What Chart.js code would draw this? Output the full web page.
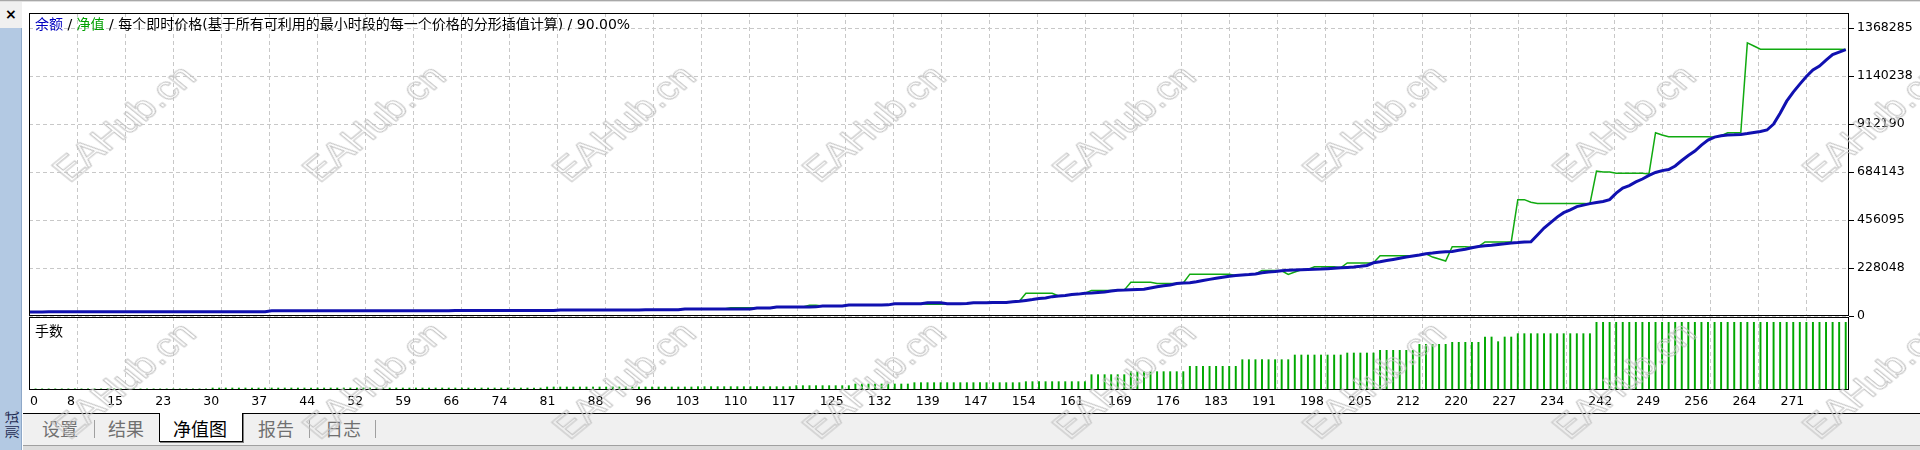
<!DOCTYPE html>
<html>
<head>
<meta charset="utf-8">
<script src="https://cdn.jsdelivr.net/npm/chart.js@4.4.1/dist/chart.umd.min.js"></script>
<style>
  body { margin: 0; background: #fff; }
  #wrap { position: relative; width: 1920px; height: 450px; overflow: hidden; background: #fff;
          font-family: "DejaVu Sans", "Noto Sans CJK SC", sans-serif; }
  canvas { position: absolute; left: 0; }
  #equityChart { top: 0; }
  #lotChart { top: 316px; }
  .abs { position: absolute; }
  .tab { position: absolute; top: 428px; transform: translate(-50%, -50%); font: 18px "Noto Sans CJK SC"; color: #707070; white-space: nowrap; }
  .sep { position: absolute; top: 420px; width: 1px; height: 18px; background: #a0a0a0; }
  .mark { position: absolute; font: 33px "Liberation Sans", sans-serif; color: transparent;
          -webkit-text-stroke: 1px #c4c4c4; white-space: nowrap; pointer-events: none; }
</style>
</head>
<body>
<div id="wrap">
  <div class="abs" style="left:0;top:0;width:1920px;height:1px;background:#a8a8a8"></div>
  <div class="abs" style="left:0;top:1px;width:1920px;height:1px;background:#e0e0e0"></div>

  <canvas id="equityChart" width="1920" height="330"></canvas>
  <canvas id="lotChart" width="1920" height="134"></canvas>

  <!-- left tester strip -->
  <div class="abs" style="left:0;top:2px;width:22px;height:26px;background:#f0f0f0"></div>
  <div class="abs" style="left:5px;top:6px;font:bold 14px 'DejaVu Sans';color:#000">×</div>
  <div class="abs" style="left:0;top:28px;width:21px;height:422px;background:#b3c9e3;border-right:1px solid #8ea8c8"></div>
  <div class="abs" style="left:11px;top:425px;transform:translate(-50%,-50%) rotate(-90deg);font:14px 'Noto Sans CJK SC';color:#1c2850;white-space:nowrap">测试</div>

  <!-- tabs -->
  <div class="abs" style="left:23px;top:414px;width:1897px;height:31px;background:#f0f0f0"></div>
  <div class="abs" style="left:23px;top:413px;width:1897px;height:1px;background:#000"></div>
  <div class="abs" style="left:159px;top:413px;width:82px;height:28px;background:#fff;border:1px solid #000;border-top:none;box-shadow:1px 1px 0 #808080"></div>
  <div class="tab" style="left:60px">设置</div>
  <div class="sep" style="left:94px"></div>
  <div class="tab" style="left:126px">结果</div>
  <div class="tab" style="left:200px;color:#000">净值图</div>
  <div class="tab" style="left:276px">报告</div>
  <div class="sep" style="left:309px"></div>
  <div class="tab" style="left:343px">日志</div>
  <div class="sep" style="left:375px"></div>
  <div class="abs" style="left:23px;top:445px;width:1897px;height:1px;background:#a0a0a0"></div>
  <div class="abs" style="left:23px;top:446px;width:1897px;height:4px;background:#dcdcdc"></div>
</div>

<script>
// trade number tick labels along the bottom
var xTickLabels = ['0','8','15','23','30','37','44','52','59','66','74','81','88','96','103','110','117','125','132',
    '139','147','154','161','169','176','183','191','198','205','212','220','227','234','242','249','256','264','271'];
var xStep = 7.324;   // trades per grid cell
var xMax = 277.5;

// balance axis labels
var yTickLabels = ['0','228048','456095','684143','912190','1140238','1368285'];
var yMax = 1440000;

// balance after each trade
var balance = [
    19500,19550,19600,19620,19680,19700,19750,19800,19820,19850,
    19880,19900,19950,19980,20000,20020,20050,20080,20100,20120,
    20150,20180,20200,20220,20250,20280,20300,20320,20350,20380,
    20400,20450,20500,20550,20600,20650,20700,24600,24650,24700,
    24700,24750,24800,24800,24850,24900,24900,24950,25000,25000,
    25050,25100,25100,25150,25200,25200,25250,25300,25300,25350,
    25400,25400,25450,25500,25500,25550,25600,25600,25650,25700,
    25700,25750,25800,25800,25850,25900,25900,25950,26000,26000,
    26050,28500,28550,28600,28650,28700,28750,28800,28850,28900,
    28950,29000,29050,29100,29150,29200,29250,29300,29350,29400,
    33300,33350,33400,33450,33500,33550,33600,33650,33700,33750,
    33800,38000,38100,38200,42800,42900,43000,43100,43200,43300,
    43400,47500,47600,47700,47800,52300,52400,52500,52600,52700,
    52800,52900,57800,57900,58000,58100,58200,63000,63100,63200,
    58600,58700,58800,58900,63000,63200,63400,63600,63800,64000,
    68000,70000,74000,78000,83000,86000,92000,95000,97000,102000,
    104000,108000,109000,112000,114000,119000,122000,123000,125000,126000,
    127000,133000,139000,144000,147000,154000,157000,158000,163000,169000,
    174000,179000,184000,189000,193000,195000,197000,200000,206000,209000,
    211000,215000,218000,219000,220000,221000,222000,223000,225000,227000,
    229000,231000,233000,236000,240000,253000,258000,264000,269000,274000,
    280000,285000,290000,296000,299000,303000,305000,307000,312000,317000,
    324000,330000,334000,336000,340000,343000,347000,349000,352000,353000,
    385000,418000,444000,470000,491000,504000,520000,527000,534000,539000,
    544000,553000,584000,608000,620000,637000,651000,668000,682000,691000,
    696000,713000,739000,763000,784000,812000,836000,850000,857000,860000,
    861000,863000,867000,872000,877000,884000,912000,964000,1021000,1064000,
    1102000,1138000,1169000,1188000,1216000,1242000,1254000,1266000
];

// equity at each trade
var equity = [
    19500,19550,19600,19620,19680,19700,19750,19800,19820,19850,
    19880,19900,19950,19980,20000,20020,20050,20080,20100,20120,
    20150,20180,20200,20220,20250,20280,20300,20320,20350,20380,
    20400,20450,20500,20550,20600,20650,20700,24600,24650,24700,
    24700,24750,24800,24800,24850,24900,24900,24950,25000,25000,
    25050,25100,25100,25150,25200,25200,25250,25300,25300,25350,
    25400,25400,25450,25500,25500,25550,25600,25600,25650,25700,
    25700,25750,25800,25800,25850,25900,25900,25950,26000,26000,
    26050,28500,28550,28600,28650,28700,28750,28800,28850,28900,
    28950,29000,29050,29100,29150,29200,29250,29300,29350,29400,
    33300,33350,33400,33450,33500,33550,33600,39400,39400,39400,
    39400,38000,38100,38200,42800,42900,43000,43100,43200,51000,
    51000,47500,47600,47700,47800,52300,52400,52500,52600,52700,
    52800,52900,57800,57900,58000,58100,58200,55600,55600,55600,
    58600,58700,58800,58900,63000,63200,63400,68000,68000,64000,
    68000,70000,108000,108000,108000,108000,108000,95000,97000,102000,
    104000,108000,121000,121000,121000,121000,122000,123000,160000,160000,
    160000,160000,154000,154000,154000,154000,157000,199000,199000,199000,
    199000,199000,199000,199000,193000,195000,197000,200000,216000,216000,
    216000,215000,198000,209000,220000,221000,234000,234000,234000,234000,
    229000,252000,252000,252000,252000,253000,286000,286000,286000,286000,
    286000,285000,290000,296000,280000,271000,261000,329000,329000,329000,
    327000,330000,352000,352000,352000,352000,352000,553000,553000,541000,
    535000,535000,535000,535000,535000,535000,535000,535000,534000,689000,
    684000,684000,678000,678000,678000,678000,678000,675000,871000,860000,
    852000,852000,852000,852000,852000,852000,852000,850000,857000,871000,
    871000,871000,1298000,1283000,1268000,1268000,1268000,1268000,1268000,1268000,
    1268000,1268000,1268000,1268000,1268000,1268000,1268000,1266000
];

// lot size of each trade (relative units)
var lots = [
    0.2,0.2,0.2,0.2,0.2,0.2,0.2,0.2,0.2,0.2,
    0.2,0.2,0.2,0.2,0.2,0.2,0.2,0.2,0.2,0.2,
    0.2,0.2,0.2,0.2,0.2,0.2,0.2,0.2,1.5,1.5,
    1.5,1.5,1.5,1.5,1.5,1.5,1.5,1.5,1.5,1.5,
    1.5,1.5,1.5,1.5,1.5,1.5,1.5,1.5,1.5,1.5,
    1.5,1.5,1.5,1.5,1.5,1.5,1.5,1.5,1.5,1.5,
    1.5,1.5,1.5,1.5,1.5,1.5,1.5,1.5,1.5,1.5,
    1.5,1.5,1.5,1.5,1.5,1.5,1.5,1.5,1.5,3,
    3,3,3,3,3,3,3,3,3,3,
    3,3,3,3,3,3,3,3,3,3,
    3,3,3.5,3.5,3.5,3.5,3.5,3.5,3.5,3.5,
    3.5,3.5,3.5,3.5,3.5,3.5,3.5,5,5,5,
    5,5,5,5,5,5,7.5,7.5,7.5,7.5,
    7.5,7.5,7.5,7.5,7.5,9.5,9.5,9.5,9.5,9.5,
    9.5,9.5,9.5,9.5,9.5,9.5,9.5,9.5,9.5,9.5,
    9.5,9.5,11,11,11,11,11,11,11,11,
    11,11,21.5,21.5,21.5,21.5,21.5,21.5,26,26,
    26,26,26,26,26,26,26,34,34,34,
    34,34,34,34,34,44,44,44,44,44,
    44,44,44,51,51,51,51,51,51,51,
    51,54,54,54,54,54,58,58,58,58,
    58,58,67,67,67,67,67,70,70,70,
    70,70,78,78,71,78,78,83,83,83,
    83,83,83,83,83,83,83,83,83,100,
    100,100,100,100,100,100,100,100,100,100,
    100,100,100,100,100,100,100,100,100,100,
    100,100,100,100,100,100,100,100,100,100,
    100,100,100,100,100,100,100,100
];
var lotMin = -1.5;   // keeps the zero line one pixel above the frame
var lotMax = 108;

var titleParts = [
    ['余额', '#0000c0'],
    [' / ', '#000000'],
    ['净值', '#00a000'],
    [' / 每个即时价格(基于所有可利用的最小时段的每一个价格的分形插值计算) / 90.00%', '#000000']
];

var fontFamily = "'DejaVu Sans', 'Noto Sans CJK SC', sans-serif";
var gridColor = '#c8c8c8';

var framePlugin = {
    id: 'frame',
    afterDraw: function (chart) {
        var a = chart.chartArea, ctx = chart.ctx;
        ctx.save();
        ctx.strokeStyle = '#000';
        ctx.lineWidth = 1;
        ctx.strokeRect(Math.round(a.left) + 0.5, Math.round(a.top) + 0.5,
            Math.round(a.right - a.left) - 1, Math.round(a.bottom - a.top) - 1);
        ctx.restore();
    }
};

var titlePlugin = {
    id: 'title',
    afterDraw: function (chart) {
        var ctx = chart.ctx, x = 35;
        ctx.save();
        ctx.font = "14px " + fontFamily;
        ctx.textBaseline = 'middle';
        titleParts.forEach(function (p) {
            ctx.fillStyle = p[1];
            ctx.fillText(p[0], x, 25);
            x += ctx.measureText(p[0]).width;
        });
        ctx.restore();
    }
};

var lotPlugin = {
    id: 'lotText',
    afterDraw: function (chart) {
        var ctx = chart.ctx, sx = chart.scales.x;
        ctx.save();
        ctx.fillStyle = '#000';
        ctx.textBaseline = 'middle';
        ctx.font = "14px " + fontFamily;
        ctx.fillText('手数', 35, 16);
        ctx.font = "12.5px " + fontFamily;
        sx.ticks.forEach(function (t, k) {
            var px = sx.getPixelForValue(t.value);
            ctx.textAlign = k === 0 ? 'left' : 'right';
            ctx.fillText(xTickLabels[k], k === 0 ? px + 1 : px - 2, chart.chartArea.bottom + 12);
        });
        ctx.restore();
    }
};

var xScale = function () {
    return {
        type: 'linear',
        min: 0,
        max: xMax,
        offset: false,
        afterBuildTicks: function (s) {
            s.ticks = xTickLabels.map(function (l, k) { return { value: k * xStep }; });
        },
        afterFit: function (s) { s.height = 0; },
        ticks: { display: false },
        grid: { color: gridColor, drawTicks: false, offset: false },
        border: { display: false, dash: [4, 3] }
    };
};

var points = function (arr) {
    return arr.map(function (v, i) { return { x: i, y: v }; });
};

new Chart(document.getElementById('equityChart'), {
    type: 'line',
    data: {
        datasets: [{
            label: '余额',
            data: points(balance),
            borderColor: '#1010b0',
            borderWidth: 3,
            pointRadius: 0,
            tension: 0
        }, {
            label: '净值',
            data: points(equity),
            borderColor: '#10aa10',
            borderWidth: 1.5,
            pointRadius: 0,
            tension: 0
        }]
    },
    options: {
        responsive: false,
        animation: false,
        devicePixelRatio: 1,
        events: [],
        layout: { padding: { left: 29, top: 13, right: 0, bottom: 14 } },
        plugins: { legend: { display: false }, tooltip: { enabled: false } },
        scales: {
            x: xScale(),
            y: {
                position: 'right',
                min: 0,
                max: yMax,
                afterBuildTicks: function (s) {
                    s.ticks = yTickLabels.map(function (l) { return { value: Number(l) }; });
                },
                afterFit: function (s) { s.width = 71; },
                ticks: {
                    callback: function (v, i) { return yTickLabels[i]; },
                    color: '#000',
                    padding: 3,
                    font: { family: fontFamily, size: 12.5 }
                },
                grid: { color: gridColor, tickColor: '#000', tickLength: 5, tickBorderDash: [] },
                border: { display: false, dash: [4, 3] }
            }
        }
    },
    plugins: [framePlugin, titlePlugin]
});

new Chart(document.getElementById('lotChart'), {
    type: 'bar',
    data: {
        datasets: [{
            label: '手数',
            data: points(lots),
            backgroundColor: '#00a800',
            barThickness: 1.3
        }]
    },
    options: {
        responsive: false,
        animation: false,
        devicePixelRatio: 1,
        events: [],
        layout: { padding: { left: 29, top: 1, right: 71, bottom: 60 } },
        plugins: { legend: { display: false }, tooltip: { enabled: false } },
        scales: {
            x: xScale(),
            y: { display: false, min: lotMin, max: lotMax }
        }
    },
    plugins: [framePlugin, lotPlugin]
});

// EAHub.cn watermark grid
var wrap = document.getElementById('wrap');
[123, 380].forEach(function (cy) {
    for (var k = 0; k < 8; k++) {
        var d = document.createElement('div');
        d.className = 'mark';
        d.textContent = 'EAHub.cn';
        d.style.left = (124 + 250 * k) + 'px';
        d.style.top = cy + 'px';
        d.style.transform = 'translate(-50%,-50%) scaleX(1.2245) rotate(-45deg)';
        wrap.appendChild(d);
    }
});
</script>
</body>
</html>
